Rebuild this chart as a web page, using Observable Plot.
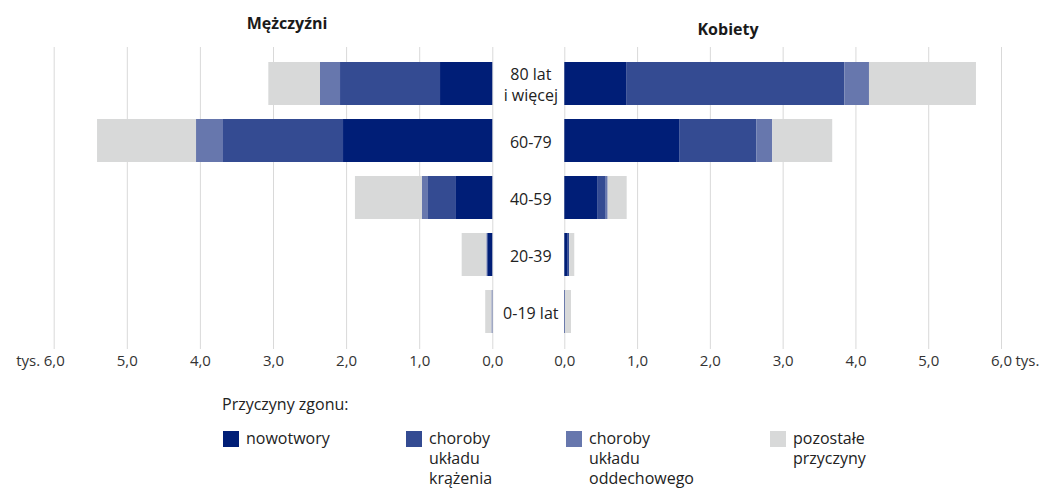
<!DOCTYPE html>
<html>
<head>
<meta charset="utf-8">
<script src="https://cdn.jsdelivr.net/npm/d3@7"></script>
<script src="https://cdn.jsdelivr.net/npm/@observablehq/plot@0.6"></script>
<style>
  html, body { margin: 0; padding: 0; background: #fff; }
  body { font-family: "Open Sans", "Noto Sans", sans-serif; color: #222; }
  #wrap { position: relative; width: 1044px; height: 488px; overflow: hidden; }
  .title { position: absolute; font-weight: 700; font-size: 16px; color: #1a1a1a; transform: translateX(-50%); white-space: nowrap; }
  .panel { position: absolute; top: 0; }
  .legend-title { position: absolute; left: 222px; top: 393px; font-size: 16px; color: #222; }
  .item { position: absolute; top: 431px; font-size: 16px; line-height: 20px; color: #222; }
  .item .sw { position: absolute; left: 0; top: 0; width: 16px; height: 16px; }
  .item .lbl { position: absolute; left: 23px; top: -3px; white-space: nowrap; }
</style>
</head>
<body>
<div id="wrap">
  <div class="title" style="left:287px; top:12px;">Mężczyźni</div>
  <div class="title" style="left:728px; top:18px;">Kobiety</div>
  <div id="left" class="panel" style="left:0px;"></div>
  <div id="right" class="panel" style="left:500px;"></div>
  <div class="legend-title">Przyczyny zgonu:</div>
  <div id="legend"></div>
</div>
<script>
const ageGroups = ["80 lat\ni więcej", "60-79", "40-59", "20-39", "0-19 lat"];
const causes = ["nowotwory", "choroby układu krążenia", "choroby układu oddechowego", "pozostałe przyczyny"];
const legendLabels = ["nowotwory", "choroby\nukładu\nkrążenia", "choroby\nukładu\noddechowego", "pozostałe\nprzyczyny"];
const colors = ["#001e77", "#344b92", "#6777ad", "#d8d9d9"];

// thousands of deaths, men
const menNowotwory  = [0.715, 2.042, 0.497, 0.068, 0.004];
const menKrazenia   = [1.368, 1.642, 0.383, 0.010, 0.004];
const menOddechowe  = [0.274, 0.369, 0.082, 0.004, 0.004];
const menPozostale  = [0.707, 1.354, 0.917, 0.337, 0.085];
// thousands of deaths, women
const womenNowotwory = [0.857, 1.585, 0.459, 0.047, 0.006];
const womenKrazenia  = [2.990, 1.052, 0.110, 0.018, 0.004];
const womenOddechowe = [0.339, 0.220, 0.027, 0.003, 0.002];
const womenPozostale = [1.470, 0.824, 0.261, 0.069, 0.080];

const xTicks = [0, 1, 2, 3, 4, 5, 6];
const unitLabel = "tys.";

function table(series) {
  const rows = [];
  ageGroups.forEach((age, i) => {
    series.forEach((vals, j) => rows.push({age, cause: causes[j], value: vals[i]}));
  });
  return rows;
}
const men = table([menNowotwory, menKrazenia, menOddechowe, menPozostale]);
const women = table([womenNowotwory, womenKrazenia, womenOddechowe, womenPozostale]);

const fmt = d => d3.format(".1f")(d).replace(".", ",");
const font = '"Open Sans", "Noto Sans", sans-serif';

function panel(data, side) {
  const isLeft = side === "left";
  const marks = [
    Plot.gridX(xTicks, {stroke: "#d9d9d9", strokeOpacity: 1, strokeWidth: 1}),
    Plot.barX(data, {x: "value", y: "age", fill: "cause", order: causes}),
    Plot.axisX(xTicks, {anchor: "bottom", tickSize: 0, tickPadding: 6, tickFormat: fmt, fontSize: 15, fill: "#333", label: null}),
    Plot.text([unitLabel], {x: () => 6, frameAnchor: "bottom", lineAnchor: "top", dy: 6,
      textAnchor: isLeft ? "end" : "start", dx: isLeft ? -14 : 14, fontSize: 15, fill: "#333"})
  ];
  if (!isLeft) {
    marks.push(Plot.text(ageGroups, {x: () => 0, y: d => d, text: d => d, dx: -34,
      textAnchor: "middle", fontSize: 16, lineHeight: 1.3, fill: "#222"}));
  }
  return Plot.plot({
    width: isLeft ? 500 : 544,
    height: 380,
    marginLeft: isLeft ? 53.7 : 64.3,
    marginRight: isLeft ? 7.7 : 43,
    marginTop: 47,
    marginBottom: 31,
    x: {domain: [0, 6], reverse: isLeft, axis: null},
    y: {domain: ageGroups, padding: 0.24, axis: null},
    color: {domain: causes, range: colors},
    style: {fontFamily: font, fontSize: "15px", color: "#333", overflow: "visible", background: "transparent"},
    marks
  });
}

document.getElementById("left").appendChild(panel(men, "left"));
document.getElementById("right").appendChild(panel(women, "right"));

const legendX = [223, 406, 566, 770];
const legend = document.getElementById("legend");
causes.forEach((c, i) => {
  const item = document.createElement("div");
  item.className = "item";
  item.style.left = legendX[i] + "px";
  const sw = document.createElement("div");
  sw.className = "sw";
  sw.style.background = colors[i];
  const lbl = document.createElement("div");
  lbl.className = "lbl";
  lbl.innerHTML = legendLabels[i].split("\n").join("<br>");
  item.appendChild(sw);
  item.appendChild(lbl);
  legend.appendChild(item);
});
</script>
</body>
</html>
